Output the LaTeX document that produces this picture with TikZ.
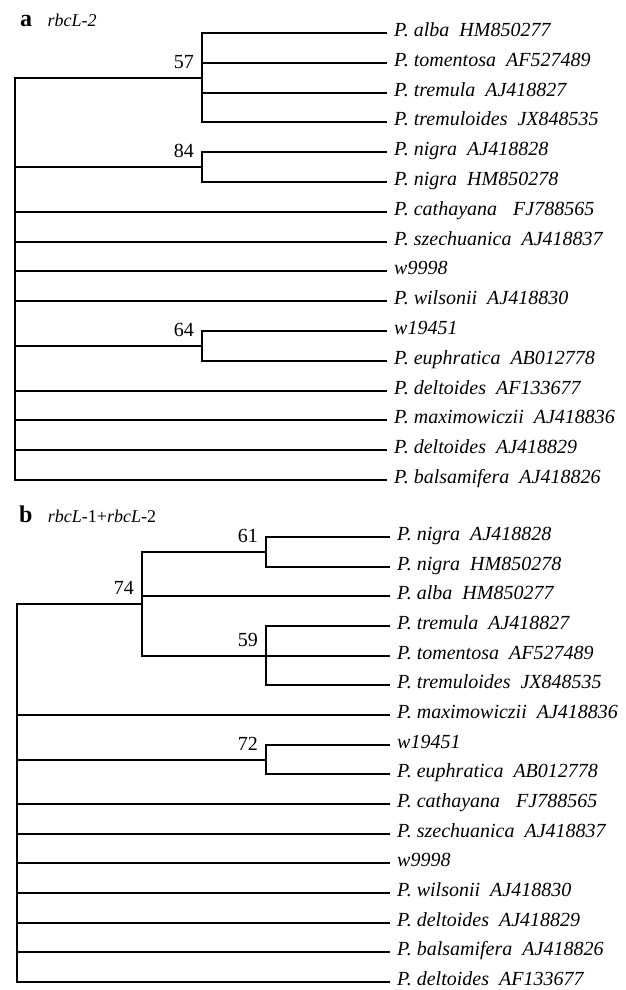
\documentclass[tikz,border=0pt]{standalone}
\usepackage{fontspec}
\setmainfont{Liberation Serif}
\usetikzlibrary{positioning}

\begin{document}
\begin{tikzpicture}[
        x=1pt,
        y=-1pt,
        branch/.style={
            line width=2pt,
            line join=miter
        },
        taxon/.style={
            anchor=west,
            inner xsep=7pt,
            inner ysep=0pt,
            text height=0.66em,
            text depth=0pt,
            font=\fontsize{20}{20}\selectfont\itshape
        },
        support/.style={
            anchor=south east,
            inner sep=0pt,
            xshift=-8pt,
            yshift=9pt,
            font=\fontsize{20}{20}\selectfont
        },
        panel/.style={
            anchor=base west,
            inner sep=0pt,
            font=\fontsize{24}{24}\selectfont\bfseries
        },
        marker/.style={
            inner sep=0pt,
            font=\fontsize{18}{18}\selectfont
        }
    ]
    \useasboundingbox (0,0) rectangle (626,990);

    % Panel a: title
    \node[panel] (pa) at (20,27) {a};
    \node[marker, right=15pt of pa.base east, anchor=base west] (ma)
        {\textit{rbcL-2}};

    % Panel a: taxa
    \foreach \nm/\txt [count=\i from 0] in {
        aalba/P.~alba\enspace HM850277,
        atoment/P.~tomentosa\enspace AF527489,
        atremula/P.~tremula\enspace AJ418827,
        atremuloid/P.~tremuloides\enspace JX848535,
        anigraA/P.~nigra\enspace AJ418828,
        anigraB/P.~nigra\enspace HM850278,
        acath/P.~cathayana\hspace{0.8em}FJ788565,
        aszech/P.~szechuanica\enspace AJ418837,
        aw9998/w9998,
        awils/P.~wilsonii\enspace AJ418830,
        aw19451/w19451,
        aeuph/P.~euphratica\enspace AB012778,
        adeltA/P.~deltoides\enspace AF133677,
        amaxim/P.~maximowiczii\enspace AJ418836,
        adeltB/P.~deltoides\enspace AJ418829,
        abals/P.~balsamifera\enspace AJ418826}
        \node[taxon] (\nm) at (387, {round(33+29.8*\i)}) {\txt};

    % Panel a: internal nodes
    \coordinate (rootA) at (15, 280);
    \coordinate (n57) at (202, 78);
    \coordinate (n84) at (202, 167);
    \coordinate (n64) at (202, 346);
    \node[support] at (n57) (s57) {57};
    \node[support] at (n84) (s84) {84};
    \node[support] at (n64) (s64) {64};

    % Panel a: branches
    \draw[branch] (rootA) |- (n57);
    \draw[branch] (rootA) |- (n84);
    \draw[branch] (rootA) |- (n64);
    \foreach \t in {acath,aszech,aw9998,awils,adeltA,amaxim,adeltB,abals}
        \draw[branch] (rootA) |- (\t.west);
    \foreach \t in {aalba,atoment,atremula,atremuloid}
        \draw[branch] (n57) |- (\t.west);
    \foreach \t in {anigraA,anigraB}
        \draw[branch] (n84) |- (\t.west);
    \foreach \t in {aw19451,aeuph}
        \draw[branch] (n64) |- (\t.west);

    % Panel b: title
    \node[panel] (pb) at (19,522) {b};
    \node[marker, right=15pt of pb.base east, anchor=base west] (mb)
        {\textit{rbcL}-1+\textit{rbcL}-2};

    % Panel b: taxa
    \foreach \nm/\txt [count=\i from 0] in {
        bnigraA/P.~nigra\enspace AJ418828,
        bnigraB/P.~nigra\enspace HM850278,
        balba/P.~alba\enspace HM850277,
        btremula/P.~tremula\enspace AJ418827,
        btoment/P.~tomentosa\enspace AF527489,
        btremuloid/P.~tremuloides\enspace JX848535,
        bmaxim/P.~maximowiczii\enspace AJ418836,
        bw19451/w19451,
        beuph/P.~euphratica\enspace AB012778,
        bcath/P.~cathayana\hspace{0.8em}FJ788565,
        bszech/P.~szechuanica\enspace AJ418837,
        bw9998/w9998,
        bwils/P.~wilsonii\enspace AJ418830,
        bdeltB/P.~deltoides\enspace AJ418829,
        bbals/P.~balsamifera\enspace AJ418826,
        bdeltA/P.~deltoides\enspace AF133677}
        \node[taxon] (\nm) at (390, {round(537+29.67*\i)}) {\txt};

    % Panel b: internal nodes
    \coordinate (rootB) at (17, 750);
    \coordinate (n61) at (266, 552);
    \coordinate (n59) at (266, 656);
    \coordinate (n74) at (142, 604);
    \coordinate (n72) at (266, 760);
    \node[support] at (n61) (s61) {61};
    \node[support] at (n74) (s74) {74};
    \node[support] at (n59) (s59) {59};
    \node[support] at (n72) (s72) {72};

    % Panel b: branches
    \draw[branch] (rootB) |- (n74);
    \draw[branch] (rootB) |- (n72);
    \foreach \t in {bmaxim,bcath,bszech,bw9998,bwils,bdeltB,bbals,bdeltA}
        \draw[branch] (rootB) |- (\t.west);
    \draw[branch] (n74) |- (n61);
    \draw[branch] (n74) |- (n59);
    \draw[branch] (n74) |- (balba.west);
    \foreach \t in {bnigraA,bnigraB}
        \draw[branch] (n61) |- (\t.west);
    \foreach \t in {btremula,btoment,btremuloid}
        \draw[branch] (n59) |- (\t.west);
    \foreach \t in {bw19451,beuph}
        \draw[branch] (n72) |- (\t.west);

\end{tikzpicture}
\end{document}
